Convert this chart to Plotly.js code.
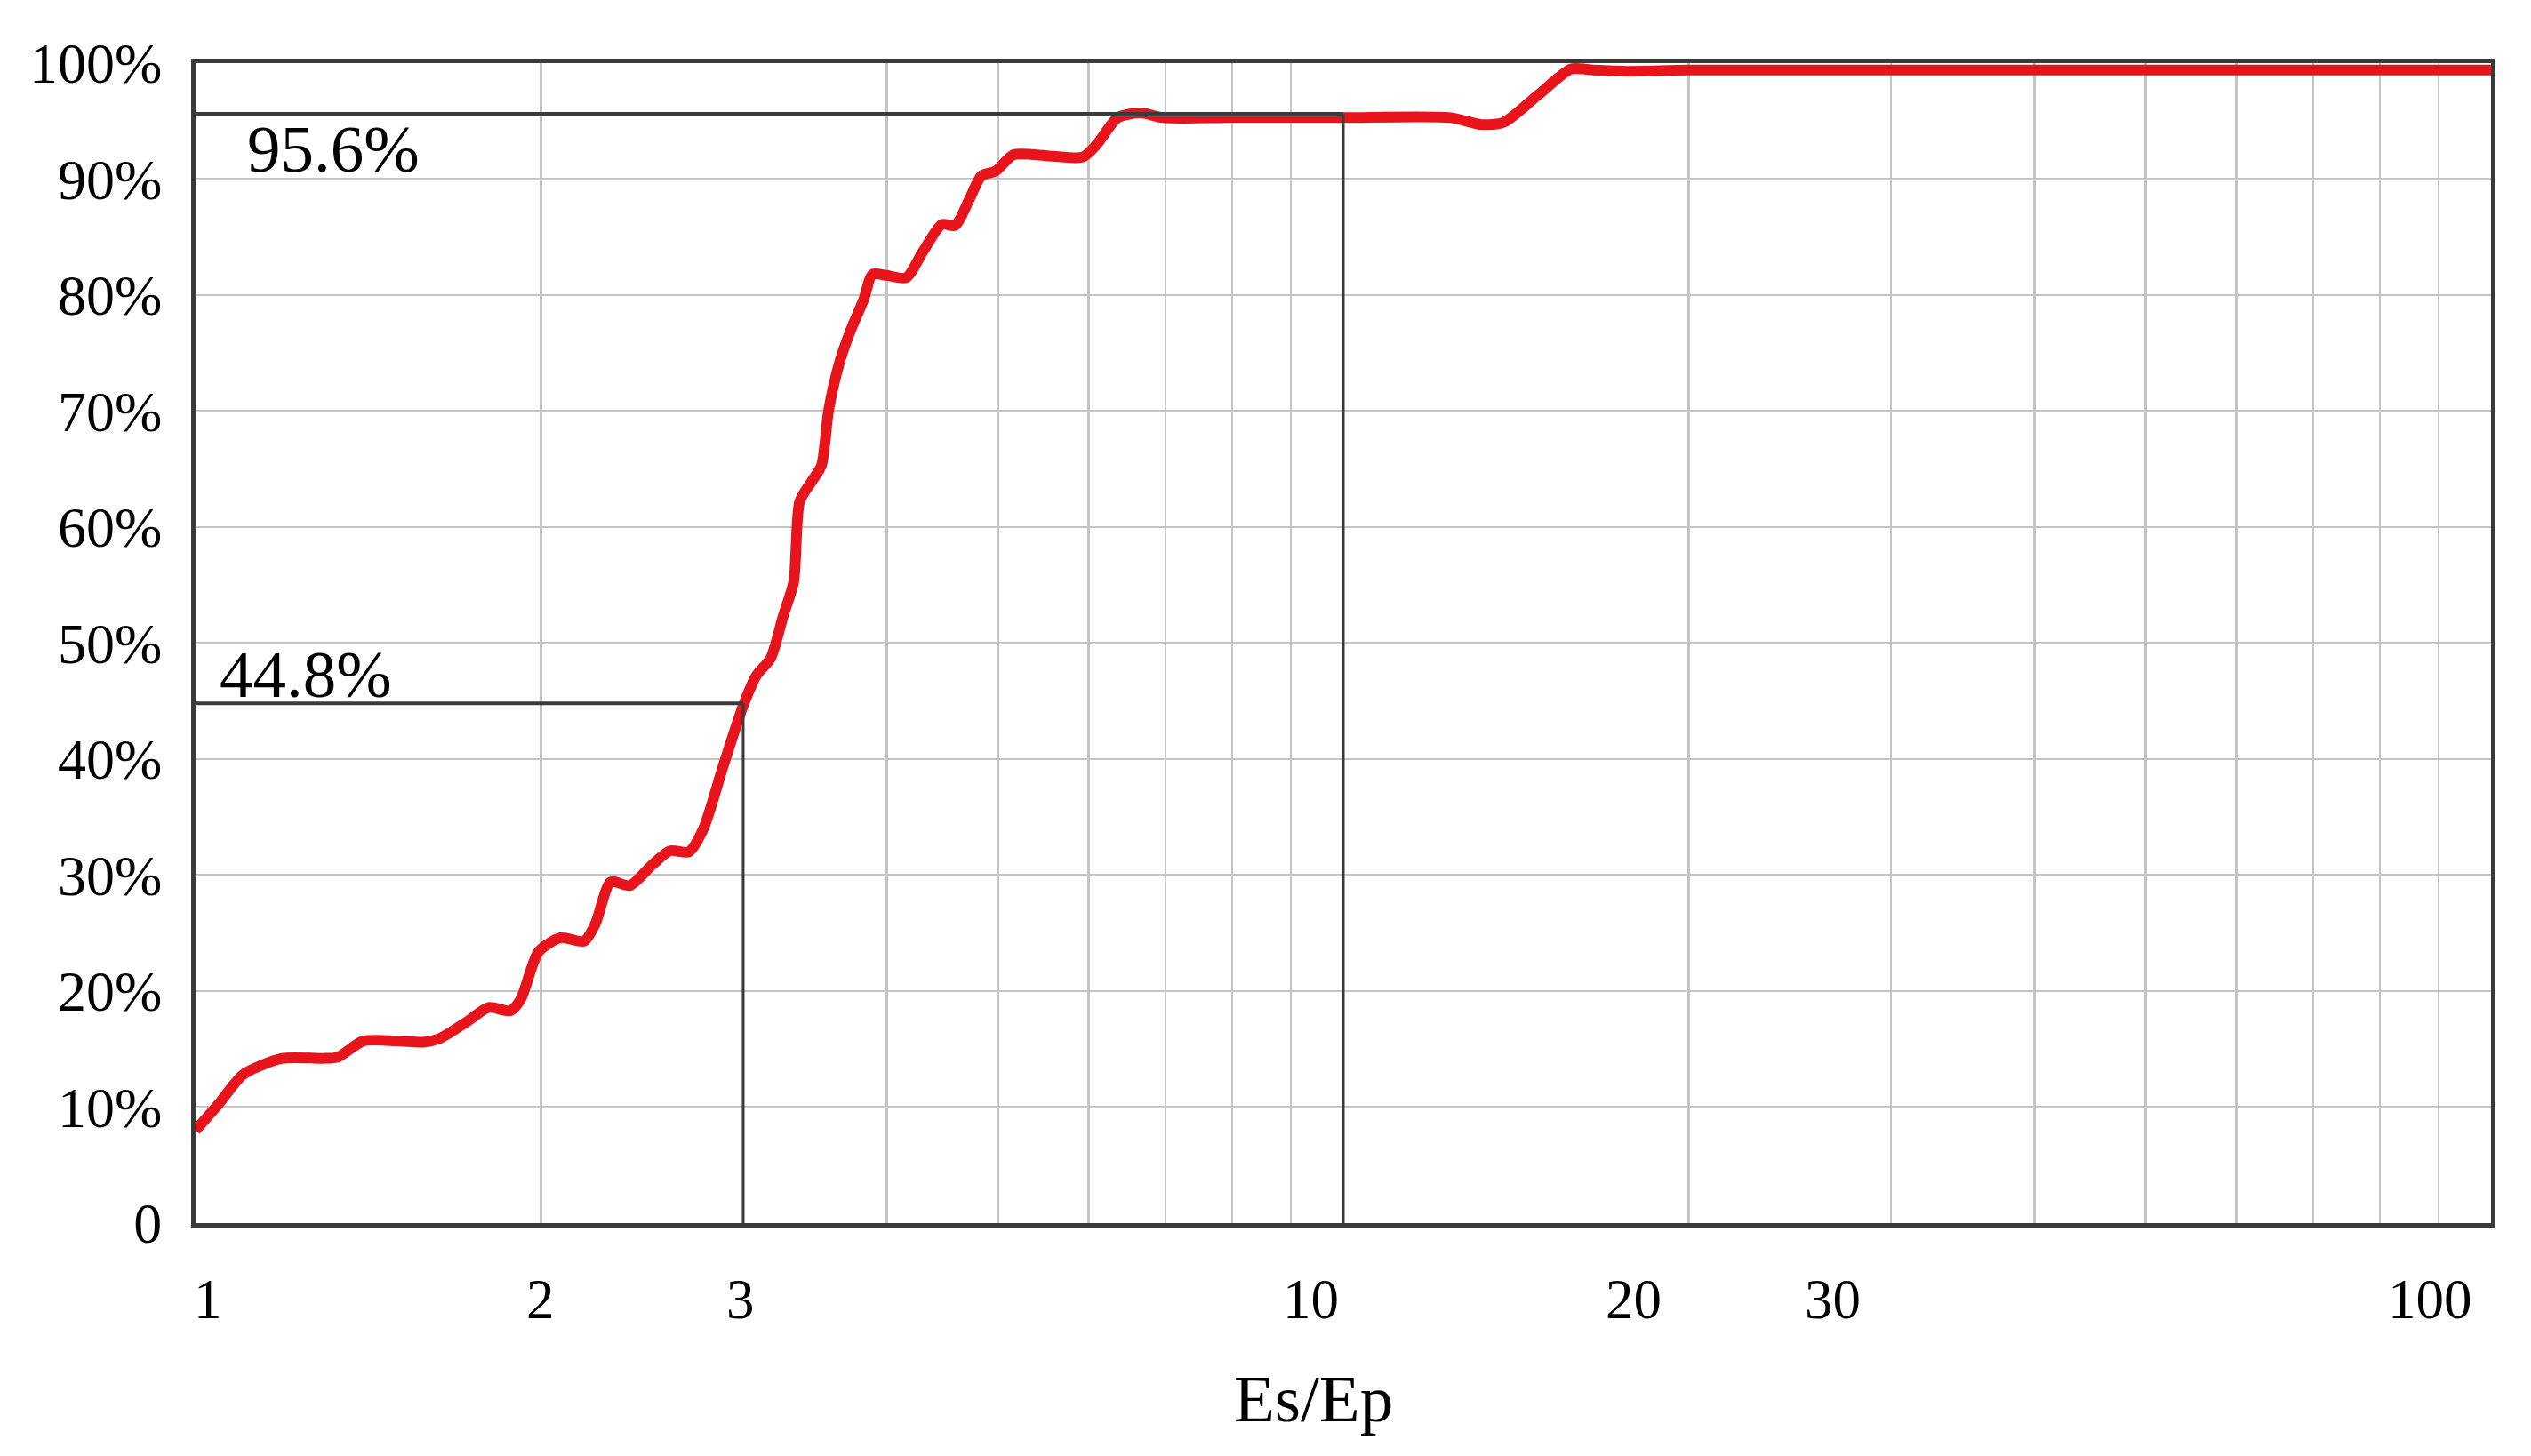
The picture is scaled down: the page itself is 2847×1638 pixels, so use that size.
<!DOCTYPE html>
<html>
<head>
<meta charset="utf-8">
<script src="https://cdn.plot.ly/plotly-3.0.1.min.js"></script>
<style>html,body{margin:0;padding:0;background:#fff}</style>
</head>
<body>
<div id="myDiv" style="width:2847px;height:1638px"></div>
<script>
// Es/Ep ratio and cumulative share (%)
var ratio = [1.0, 1.05, 1.10, 1.19, 1.29, 1.33, 1.40, 1.50, 1.58, 1.63, 1.72, 1.80, 1.88, 1.92, 1.99,
    2.08, 2.18, 2.23, 2.30, 2.39, 2.50, 2.59, 2.69, 2.77, 2.88, 3.0, 3.08, 3.17, 3.25, 3.32, 3.36,
    3.44, 3.51, 3.56, 3.64, 3.72, 3.82, 3.89, 4.0, 4.16, 4.30, 4.47, 4.59, 4.72, 4.84, 4.98, 5.16,
    5.54, 5.93, 6.10, 6.36, 6.66, 6.96, 8.0, 9.9, 12.4, 13.2, 13.8, 14.8, 15.8, 16.5, 17.7, 20, 30, 50, 100];
var share = [8.0, 10.4, 12.8, 14.2, 14.2, 14.3, 15.7, 15.7, 15.6, 15.9, 17.3, 18.6, 18.3, 19.3, 23.4,
    24.6, 24.3, 25.8, 29.4, 29.1, 30.9, 32.1, 32.0, 34.0, 39.3, 44.6, 47.2, 48.7, 52.3, 55.3, 62.2,
    63.9, 65.3, 70.0, 74.2, 76.9, 79.6, 81.8, 81.7, 81.5, 83.7, 86.1, 86.0, 88.2, 90.3, 90.7, 92.1,
    92.0, 91.9, 93.0, 95.3, 95.7, 95.3, 95.3, 95.3, 95.3, 94.7, 94.9, 97.3, 99.5, 99.4, 99.3, 99.4, 99.4, 99.4, 99.4];

// marked points
var markX = [3, 10];
var markY = [44.8, 95.6];
var markText = ['44.8%', '95.6%'];
var markTextY = [47.3, 92.6];
var markTextX = [0.0097, 0.0217];

var gridTicks = [2, 4, 5, 6, 7, 8, 9, 20, 30, 40, 50, 60, 70, 80, 90];
var labelTicks = [1, 2, 3, 10, 20, 30, 100];
var labelText = ['1', '2', '3', '10', '20', '30', '100'];
var labelNudge = [14, -1, -3, -37, -62, -65, -69];

var yTicks = [0, 10, 20, 30, 40, 50, 60, 70, 80, 90, 100];
var yText = ['0', '10%', '20%', '30%', '40%', '50%', '60%', '70%', '80%', '90%', '100%'];

var serif = 'Liberation Serif, Times New Roman, serif';
var dark = '#3a3a3a';

var curve = {
    x: ratio,
    y: share,
    mode: 'lines',
    type: 'scatter',
    line: {color: '#e8141c', width: 12, shape: 'spline', smoothing: 0.7},
    hoverinfo: 'skip'
};

var data = [curve];
markX.forEach(function (mx, i) {
    data.push({
        x: [1, mx], y: [markY[i], markY[i]],
        mode: 'lines', type: 'scatter',
        line: {color: dark, width: i === 0 ? 4 : 5}
    });
    data.push({
        x: [mx, mx], y: [markY[i], 0],
        mode: 'lines', type: 'scatter',
        line: {color: dark, width: 3}
    });
});

var notes = markText.map(function (t, i) {
    return {
        text: t, xref: 'paper', yref: 'y', x: markTextX[i], y: markTextY[i],
        xanchor: 'left', yanchor: 'middle', showarrow: false,
        font: {family: serif, size: 75, color: '#000'}
    };
});
labelTicks.forEach(function (v, i) {
    notes.push({
        text: labelText[i], xref: 'x', yref: 'paper', x: Math.log10(v), y: 0,
        xshift: labelNudge[i], yshift: -86, xanchor: 'center', yanchor: 'middle',
        showarrow: false, font: {family: serif, size: 63, color: '#000'}
    });
});
// axis title
notes.push({
    text: 'Es/Ep', xref: 'paper', yref: 'paper', x: 0.487, y: 0, yshift: -197,
    xanchor: 'center', yanchor: 'middle', showarrow: false,
    font: {family: serif, size: 75, color: '#000'}
});

var layout = {
    width: 2847,
    height: 1638,
    margin: {l: 220, r: 45, t: 71, b: 262},
    paper_bgcolor: '#fff',
    plot_bgcolor: '#fff',
    showlegend: false,
    font: {family: serif, color: '#000'},
    xaxis: {
        type: 'log',
        range: [0, 2],
        tickvals: gridTicks,
        showticklabels: false,
        ticks: '',
        showgrid: true,
        gridcolor: '#c4c4c4',
        gridwidth: 2.5,
        zeroline: false,
        showline: true,
        mirror: true,
        linecolor: dark,
        linewidth: 5
    },
    yaxis: {
        range: [0, 100],
        tickvals: yTicks,
        ticktext: yText,
        ticks: '',
        ticklabelstandoff: 20,
        tickfont: {family: serif, size: 64, color: '#000'},
        showgrid: true,
        gridcolor: '#c4c4c4',
        gridwidth: 2.5,
        zeroline: false,
        showline: true,
        mirror: true,
        linecolor: dark,
        linewidth: 5
    },
    annotations: notes
};

Plotly.newPlot('myDiv', data, layout, {staticPlot: true});
</script>
</body>
</html>
